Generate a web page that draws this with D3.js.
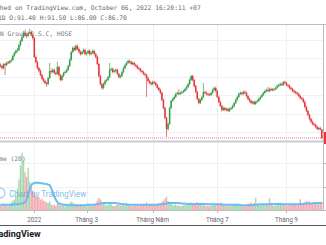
<!DOCTYPE html>
<html>
<head>
<meta charset="utf-8">
<script src="https://cdn.jsdelivr.net/npm/d3@7"></script>
<style>
  html, body { margin: 0; padding: 0; background: #fff; overflow: hidden; }
  text { font-family: "DejaVu Sans Mono", monospace; }
</style>
</head>
<body>
<svg id="chart" width="326" height="245"></svg>
<script>
// giá mở / đóng / cao / thấp theo phiên (nghìn đồng)
const opens = [
126.4,125.8,124.7,126.9,126.4,127.9,127.5,128.5,129.1,131.3,
132.9,134.0,134.5,137.2,139.4,141.6,143.8,142.7,142.1,143.8,
144.3,142.7,141.0,130.7,128.0,124.7,123.1,120.9,118.8,117.7,
116.6,116.0,119.3,123.1,122.6,123.7,122.0,121.5,125.3,120.9,
118.2,120.4,122.0,122.6,123.7,125.8,129.1,133.4,135.6,134.5,
136.7,135.1,133.4,132.3,133.4,134.5,132.3,132.9,134.0,132.3,
132.9,134.0,132.3,130.7,126.9,120.4,116.0,113.9,116.0,117.7,
118.2,119.8,123.7,124.2,122.6,123.1,123.7,121.5,119.8,120.4,
122.6,124.7,126.4,127.5,128.5,128.0,126.9,127.5,126.4,125.8,
124.7,124.2,123.1,122.6,121.5,120.9,119.3,117.7,116.6,116.0,
117.1,116.6,115.5,113.9,112.8,111.2,107.4,103.0,97.6,91.6,
94.3,103.0,106.8,107.9,109.0,110.6,111.2,110.6,111.2,111.7,
112.2,113.3,114.4,116.0,118.2,120.4,118.2,114.9,111.7,107.9,
105.7,107.4,109.0,111.7,111.2,110.6,110.4,110.1,111.2,112.8,
113.9,112.2,109.0,106.3,104.1,101.9,103.0,101.9,102.5,101.4,
102.5,103.0,104.1,105.7,107.4,109.0,110.6,111.2,110.6,111.7,
111.2,109.5,107.9,106.8,105.7,106.3,105.2,106.3,106.8,107.9,
109.0,110.1,111.2,112.2,112.8,112.2,113.3,113.1,112.8,113.3,
113.9,115.0,115.5,116.0,115.5,117.1,116.6,115.5,115.0,113.9,
113.3,112.2,111.7,111.2,110.6,109.5,108.4,107.9,106.3,103.5,
101.4,99.2,97.0,95.4,94.3,93.8,92.7,91.6,92.1,91.4
];
const closes = [
125.8,124.7,126.9,126.4,127.5,127.5,128.5,129.1,131.3,132.9,
134.0,134.5,137.2,139.4,141.6,143.8,142.7,142.1,143.8,144.3,
142.7,141.0,130.7,128.0,124.7,123.1,120.9,118.8,117.7,116.6,
116.0,119.3,123.1,122.6,123.7,122.0,121.5,125.3,120.9,118.2,
120.4,122.0,122.6,123.7,125.8,129.1,133.4,135.6,134.5,136.7,
135.1,133.4,132.3,133.4,134.5,132.3,132.9,134.0,132.3,132.9,
134.0,132.3,130.7,126.9,120.4,116.0,113.9,116.0,117.7,118.2,
119.8,123.7,124.2,122.6,123.1,123.7,121.5,119.8,120.4,122.6,
124.7,126.4,127.5,128.5,128.0,126.9,127.5,126.4,125.8,124.7,
124.2,123.1,122.6,121.5,120.9,119.3,117.7,116.6,116.0,117.1,
116.6,115.5,113.9,112.8,111.2,107.4,103.0,97.6,91.6,94.3,
103.0,106.8,107.9,109.0,110.6,111.2,110.6,111.2,111.7,112.2,
113.3,114.4,116.0,118.2,120.4,118.2,114.9,111.7,107.9,105.7,
107.4,109.0,111.7,111.2,110.6,110.1,110.1,111.2,112.8,113.9,
112.2,109.0,106.3,104.1,101.9,103.0,101.9,102.5,101.4,102.5,
103.0,104.1,105.7,107.4,109.0,110.6,111.2,110.6,111.7,111.2,
109.5,107.9,106.8,105.7,106.3,105.2,106.3,106.8,107.9,109.0,
110.1,111.2,112.2,112.8,112.2,113.3,112.8,112.8,113.3,113.9,
115.0,115.5,116.0,115.5,117.1,116.6,115.5,115.0,113.9,113.3,
112.2,111.7,111.2,110.6,109.5,108.4,107.9,106.3,103.5,101.4,
99.2,97.0,95.4,94.3,93.8,92.7,91.6,92.1,91.4,86.7
];
const highs = [
127.2,126.5,127.4,127.6,128.2,128.6,129.0,130.0,131.9,133.6,
134.8,135.6,137.9,140.2,142.5,145.0,145.5,143.9,144.6,146.0,
145.0,143.5,141.6,131.5,128.8,125.5,124.0,121.6,119.6,118.4,
117.3,120.0,127.5,124.0,124.6,124.4,122.8,128.0,125.9,121.5,
121.0,122.7,123.4,124.4,126.5,129.9,134.2,136.5,136.4,137.6,
137.4,135.9,134.2,134.1,135.3,135.2,133.7,134.8,134.7,133.8,
134.9,134.6,133.0,131.4,127.5,121.0,116.7,116.8,118.5,119.0,
120.5,127.5,125.0,124.9,123.9,124.5,124.3,122.2,121.2,123.3,
125.4,127.1,128.3,129.3,129.2,128.7,128.3,128.1,127.1,126.5,
125.4,124.9,123.8,123.3,122.2,121.6,120.0,118.4,117.3,117.9,
117.8,117.3,116.2,114.6,113.5,111.9,108.1,103.7,98.3,95.0,
103.7,107.5,108.7,109.8,111.3,112.0,113.2,111.9,112.5,113.0,
114.0,115.1,116.8,119.0,120.9,121.0,118.9,115.6,112.4,108.6,
108.1,109.8,116.6,112.5,111.9,111.3,111.1,111.9,113.5,114.6,
114.6,112.9,109.7,107.0,104.8,103.7,103.7,103.2,103.2,103.2,
103.8,104.8,106.4,108.1,109.7,111.3,112.0,111.9,112.5,112.5,
111.9,110.2,108.6,107.5,107.0,107.0,107.0,107.6,108.6,109.7,
110.8,111.9,112.9,113.5,114.4,114.0,114.0,113.8,114.0,114.6,
115.7,116.2,116.8,116.7,117.8,117.8,117.3,116.2,115.7,114.6,
114.0,112.9,112.4,111.9,111.3,110.2,109.1,108.6,107.0,104.2,
102.1,99.9,97.7,96.1,95.0,94.5,93.4,92.8,92.8,91.5
];
const lows = [
125.0,123.9,124.0,120.9,125.8,126.8,127.0,127.8,128.6,130.8,
132.2,133.2,134.0,136.5,138.8,141.0,142.0,140.8,141.5,143.0,
141.9,140.2,130.2,127.2,124.0,122.3,120.2,118.0,116.9,115.8,
114.4,115.4,118.8,121.8,121.9,121.2,120.7,121.0,120.2,117.5,
117.6,119.8,121.3,122.0,123.1,125.2,128.6,132.8,133.8,134.0,
134.4,132.6,131.5,131.7,132.8,131.6,131.5,132.2,131.5,131.6,
132.3,131.6,130.0,126.2,119.6,115.2,112.8,113.2,115.4,117.0,
117.6,119.2,123.0,121.9,121.9,122.4,120.8,119.0,119.1,119.8,
122.0,124.1,125.8,126.9,127.3,126.2,126.3,125.7,125.1,124.0,
123.5,122.4,121.9,120.8,120.2,109.0,117.0,115.9,115.2,115.3,
115.9,114.8,113.2,112.1,110.5,106.7,102.3,96.8,87.2,90.5,
93.8,102.4,106.2,107.3,108.4,110.0,109.9,110.0,110.6,111.1,
111.6,112.7,113.8,115.4,117.6,117.5,114.2,111.0,107.2,105.0,
105.1,106.8,108.4,110.5,109.9,109.4,109.4,109.5,110.6,112.2,
111.5,108.3,105.6,103.4,101.0,101.3,101.2,101.2,100.7,100.8,
101.9,102.4,103.5,105.1,106.8,108.4,110.0,109.9,110.0,110.5,
108.8,107.2,106.1,105.0,105.0,104.5,104.6,105.7,106.2,107.3,
108.4,109.5,110.6,111.6,111.5,111.6,112.1,112.1,112.2,112.7,
113.3,114.4,114.9,114.8,115.0,115.9,114.8,114.3,113.2,112.6,
111.5,111.0,110.5,109.9,108.8,107.7,107.2,105.6,102.8,100.7,
98.5,96.3,94.7,93.6,93.1,92.0,90.9,90.9,90.7,86.0
];
// khối lượng (triệu cp) và MA 20
const volumes = [
1.2,0.9,1.4,1.0,1.1,0.8,1.3,1.6,2.0,2.2,
3.0,4.5,6.5,9.5,12.2,10.5,8.0,7.0,9.0,6.0,
5.0,4.0,3.6,3.0,2.6,2.8,2.2,2.4,2.0,1.8,
1.6,1.5,1.8,1.2,1.0,1.1,0.9,1.4,1.2,1.0,
0.9,1.1,0.8,1.0,1.2,1.5,1.8,1.6,1.2,1.3,
1.0,0.9,1.1,0.8,1.0,0.9,0.8,1.0,1.1,0.9,
1.0,1.2,1.4,2.0,2.6,2.2,1.8,1.5,1.2,1.0,
1.1,1.6,1.2,0.9,0.8,1.0,1.1,1.2,0.9,1.0,
1.2,1.3,1.4,1.1,0.9,1.0,0.8,0.9,1.0,1.1,
0.8,0.9,1.0,1.1,1.2,1.6,1.3,1.2,1.1,1.0,
0.9,1.1,1.3,1.2,1.4,1.8,2.0,2.4,2.8,1.9,
1.7,1.4,1.1,1.0,1.2,0.9,1.0,0.8,0.9,1.0,
1.1,1.2,1.3,1.5,1.6,1.4,1.3,1.5,1.7,1.4,
1.1,1.0,1.3,0.9,0.8,0.9,0.8,0.9,1.0,1.1,
1.0,1.2,1.4,1.3,1.5,1.1,1.0,0.8,0.9,0.8,
0.9,1.0,1.2,1.3,1.1,1.0,0.9,0.8,0.9,1.0,
1.1,1.3,1.4,1.6,1.2,1.5,2.6,1.4,1.2,1.0,
1.1,1.2,1.0,1.1,1.3,2.5,1.2,1.0,0.9,1.0,
1.1,1.3,1.2,1.0,1.4,1.1,0.9,1.0,1.2,1.1,
1.3,1.2,1.1,1.0,1.4,2.3,1.3,1.5,1.7,1.9,
1.6,1.8,1.5,1.4,1.6,1.3,1.5,1.2,1.4,1.8
];
const volumeMA = [
1.1,1.1,1.1,1.1,1.1,1.1,1.1,1.1,1.1,1.2,
1.2,1.2,1.3,1.3,1.4,1.5,1.7,2.3,3.3,4.4,
5.2,5.6,5.7,5.8,5.8,5.8,5.7,5.7,5.6,5.6,
5.5,5.4,5.3,4.6,3.7,2.9,2.2,1.7,1.4,1.3,
1.2,1.1,1.1,1.1,1.0,1.0,1.0,1.0,1.0,1.0,
1.0,1.0,1.0,1.0,1.0,1.0,1.1,1.1,1.1,1.1,
1.1,1.1,1.2,1.2,1.3,1.4,1.4,1.5,1.5,1.5,
1.5,1.5,1.5,1.5,1.5,1.5,1.4,1.4,1.3,1.3,
1.2,1.2,1.2,1.1,1.1,1.1,1.1,1.1,1.1,1.1,
1.1,1.1,1.1,1.1,1.1,1.1,1.1,1.1,1.1,1.1,
1.1,1.1,1.1,1.2,1.2,1.2,1.3,1.3,1.4,1.5,
1.5,1.5,1.5,1.5,1.5,1.5,1.5,1.4,1.4,1.4,
1.4,1.3,1.3,1.3,1.3,1.3,1.3,1.3,1.3,1.3,
1.3,1.3,1.3,1.3,1.2,1.2,1.2,1.2,1.2,1.2,
1.2,1.2,1.2,1.2,1.2,1.1,1.1,1.1,1.1,1.1,
1.1,1.1,1.1,1.1,1.1,1.1,1.1,1.0,1.0,1.0,
1.0,1.0,1.0,1.0,1.0,1.1,1.1,1.1,1.2,1.2,
1.2,1.2,1.2,1.2,1.2,1.3,1.3,1.3,1.3,1.3,
1.3,1.3,1.3,1.3,1.2,1.2,1.2,1.2,1.2,1.2,
1.2,1.2,1.2,1.2,1.2,1.3,1.3,1.3,1.3,1.4,
1.4,1.4,1.4,1.4,1.5,1.5,1.5,1.5,1.5,1.5
];
// nhãn trục thời gian (chỉ số phiên)
const tickIdx = [22, 56, 99, 141, 186];
const tickLabels = ["2022", "Tháng 3", "Tháng Năm", "Tháng 7", "Tháng 9"];
const priceTicks = [90, 100, 110, 120, 130, 140];
const volTicks = [5, 10];
const lastClose = 86.7;

const UP = "#2f9e44", DOWN = "#e8333a";
const svg = d3.select("#chart");
const W = 326, RIGHT = 323;

const x = d3.scaleLinear().domain([0, closes.length - 1]).range([0.5, 321.8]);
const y = d3.scaleLinear().domain([90, 140]).range([131.9, 39.9]);
const yv = d3.scaleLinear().domain([0, 10]).range([210, 163]);

// lưới
const grid = svg.append("g").attr("stroke", "#eef1f5").attr("stroke-width", 1);
grid.selectAll(".gv").data(tickIdx).join("line")
  .attr("x1", d => Math.round(x(d)) + 0.5).attr("x2", d => Math.round(x(d)) + 0.5)
  .attr("y1", 24).attr("y2", 210);
grid.selectAll(".gp").data(priceTicks).join("line")
  .attr("x1", 0).attr("x2", RIGHT)
  .attr("y1", d => Math.round(y(d)) + 0.5).attr("y2", d => Math.round(y(d)) + 0.5);
grid.selectAll(".gvol").data(volTicks).join("line")
  .attr("x1", 0).attr("x2", RIGHT)
  .attr("y1", d => Math.round(yv(d)) + 0.5).attr("y2", d => Math.round(yv(d)) + 0.5);

// vùng cắt cho khung giá và khung khối lượng
const defs = svg.append("defs");
defs.append("clipPath").attr("id", "clipP").append("rect").attr("x", 0).attr("y", 24).attr("width", RIGHT).attr("height", 117);
defs.append("clipPath").attr("id", "clipV").append("rect").attr("x", 0).attr("y", 143).attr("width", RIGHT).attr("height", 67);

// khối lượng
const volG = svg.append("g").attr("clip-path", "url(#clipV)");
volG.selectAll("rect").data(volumes).join("rect")
  .attr("x", (d, i) => x(i) - 0.7).attr("width", 1.4)
  .attr("y", d => yv(d)).attr("height", d => 210 - yv(d))
  .attr("fill", (d, i) => closes[i] >= opens[i] ? "#a3d9b0" : "#f5aab0");
volG.append("path").datum(volumeMA)
  .attr("fill", "none").attr("stroke", "#6cbbf2").attr("stroke-width", 2)
  .attr("d", d3.line().x((d, i) => x(i)).y(d => yv(d)).curve(d3.curveMonotoneX));

// nến
const candG = svg.append("g").attr("clip-path", "url(#clipP)");
const cand = candG.selectAll("g").data(closes).join("g")
  .attr("fill", (d, i) => d >= opens[i] ? UP : DOWN)
  .attr("stroke", (d, i) => d >= opens[i] ? UP : DOWN);
cand.append("line")
  .attr("x1", (d, i) => x(i)).attr("x2", (d, i) => x(i))
  .attr("y1", (d, i) => y(highs[i])).attr("y2", (d, i) => y(lows[i]))
  .attr("stroke-width", 0.9).attr("stroke-opacity", 0.75);
cand.append("rect")
  .attr("stroke", "none")
  .attr("x", (d, i) => x(i) - 0.75).attr("width", 1.5)
  .attr("y", (d, i) => y(Math.max(d, opens[i])))
  .attr("height", (d, i) => Math.max(1, Math.abs(y(d) - y(opens[i]))));

// đường giá cuối
svg.append("line").attr("x1", 0).attr("x2", RIGHT)
  .attr("y1", y(lastClose)).attr("y2", y(lastClose))
  .attr("stroke", DOWN).attr("stroke-width", 1).attr("stroke-dasharray", "1,1").attr("opacity", 0.6);
svg.append("rect").attr("x", RIGHT + 1).attr("y", y(lastClose) - 6).attr("width", 4).attr("height", 12).attr("fill", DOWN);

// khung
const frame = svg.append("g").attr("stroke", "#b8bcc4").attr("fill", "none");
frame.append("line").attr("x1", 0).attr("x2", W).attr("y1", 24.5).attr("y2", 24.5);
frame.append("line").attr("x1", RIGHT + 0.5).attr("x2", RIGHT + 0.5).attr("y1", 24).attr("y2", 210);
frame.append("line").attr("x1", 0).attr("x2", RIGHT).attr("y1", 141.5).attr("y2", 141.5).attr("stroke", "#c8cbd1").attr("stroke-width", 2);
frame.append("line").attr("x1", 0).attr("x2", RIGHT + 1).attr("y1", 210.5).attr("y2", 210.5);
frame.selectAll(".tk").data(tickIdx).join("line")
  .attr("x1", d => Math.round(x(d)) + 0.5).attr("x2", d => Math.round(x(d)) + 0.5)
  .attr("y1", 210).attr("y2", 213);
frame.selectAll(".tr").data(volTicks.concat([0])).join("line")
  .attr("x1", RIGHT).attr("x2", W).attr("y1", d => Math.round(yv(d)) + 0.5).attr("y2", d => Math.round(yv(d)) + 0.5);
svg.append("line").attr("x1", 0).attr("x2", W).attr("y1", 225.5).attr("y2", 225.5).attr("stroke", "#555");

// nhãn trục thời gian
svg.selectAll(".xl").data(tickIdx).join("text")
  .attr("x", d => x(d)).attr("y", 221.5).attr("text-anchor", "middle")
  .attr("font-size", 6.3).attr("fill", "#666").style("font-family", "Roboto, sans-serif")
  .text((d, i) => tickLabels[i]);

// chữ tiêu đề
svg.append("text").attr("x", -23).attr("y", 9.5).attr("font-size", 6.3).attr("fill", "#666")
  .text("Published on TradingView.com, October 06, 2022 16:20:11 +07");
svg.append("text").attr("x", -21).attr("y", 19.5).attr("font-size", 6.3).attr("fill", "#666")
  .text("MSN, 1D O:91.40 H:91.50 L:86.00 C:86.70");
svg.append("text").attr("x", 0).attr("y", 36).attr("font-size", 6.3).attr("fill", "#777")
  .text("N Group J.S.C, HOSE");
svg.append("text").attr("x", -16).attr("y", 161).attr("font-size", 6.3).attr("fill", "#777")
  .text("Volume (20)");

// hình mờ
const wm = svg.append("g").attr("opacity", 0.7);
wm.append("circle").attr("cx", 0).attr("cy", 193).attr("r", 5).attr("fill", "none").attr("stroke", "#7fbde9").attr("stroke-width", 1.3);
wm.append("text").attr("x", 9).attr("y", 196.5).attr("font-size", 8.2).attr("fill", "#4fa3e0")
  .style("font-family", "Roboto, sans-serif").text("Chart by TradingView");

svg.append("text").attr("x", -10).attr("y", 237).attr("font-size", 9).attr("font-weight", "bold")
  .attr("fill", "#131722").style("font-family", "Roboto, sans-serif").text("TradingView");
</script>
</body>
</html>
